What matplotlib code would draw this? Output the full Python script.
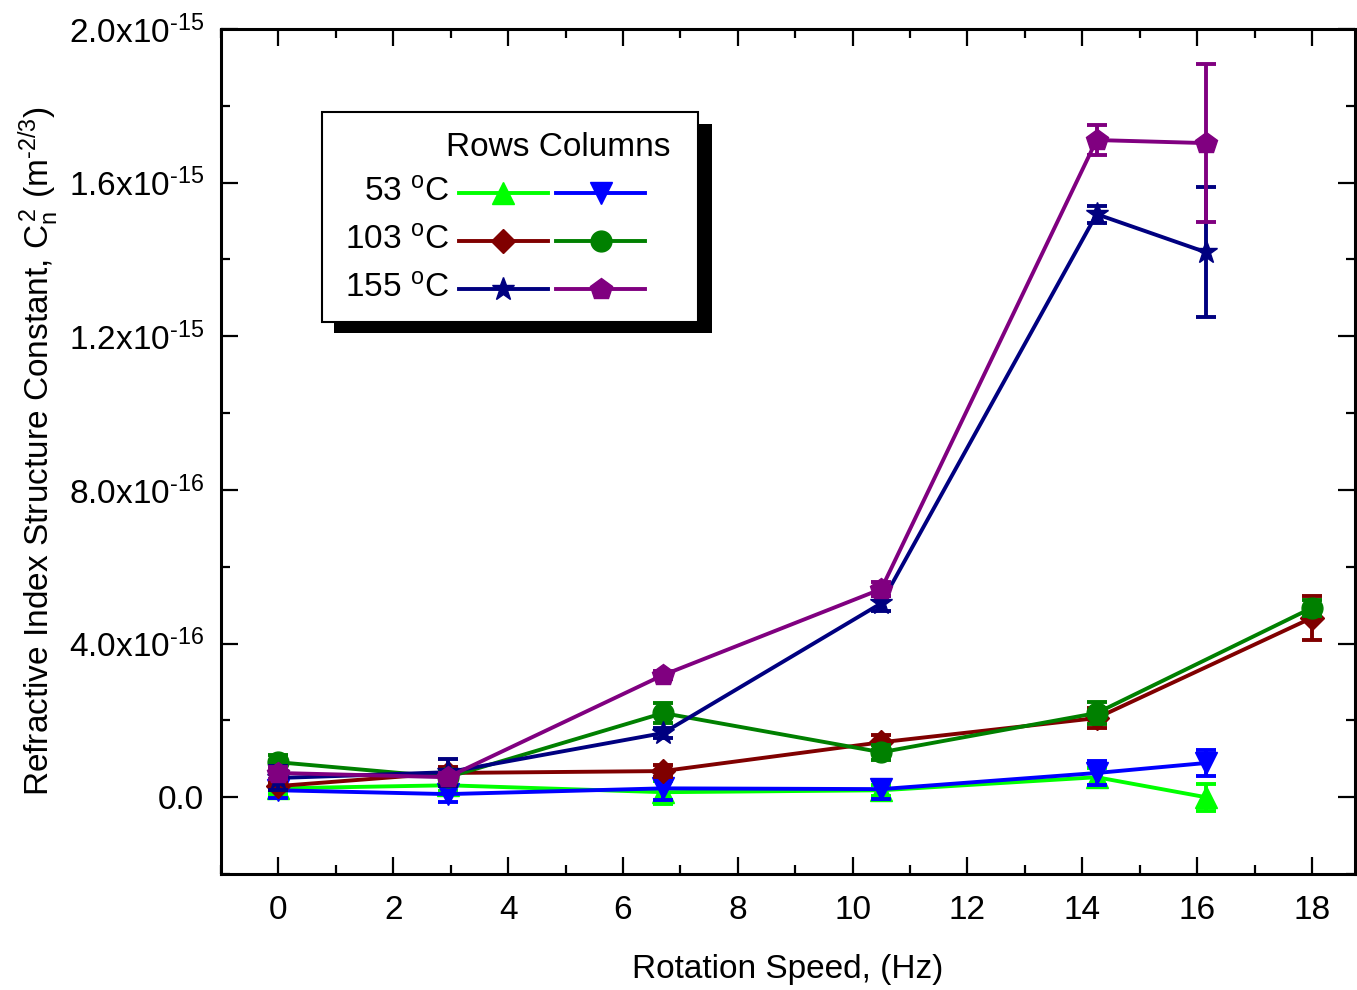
import numpy as np
import matplotlib
matplotlib.use("Agg")
import matplotlib.pyplot as plt
from matplotlib.ticker import MultipleLocator, FuncFormatter
from matplotlib.patches import Rectangle
from matplotlib.lines import Line2D

plt.rcParams["font.family"] = ["Liberation Sans", "DejaVu Sans"]
plt.rcParams["mathtext.fontset"] = "custom"
plt.rcParams["mathtext.rm"] = "Liberation Sans"
plt.rcParams["mathtext.it"] = "Liberation Sans:italic"
plt.rcParams["mathtext.bf"] = "Liberation Sans:bold"

# values in units of 1e-15 m^-2/3
UNIT = 1e-15
speed_a = [0, 2.95, 6.7, 10.5, 14.25, 16.15]
speed_b = [0, 2.95, 6.7, 10.5, 14.25, 18]

rows_53 = [0.023, 0.031, 0.013, 0.018, 0.052, 0.000]
rows_53_err = [0.015, 0.015, 0.03, 0.015, 0.025, 0.035]
cols_53 = [0.018, 0.008, 0.023, 0.021, 0.063, 0.089]
cols_53_err = [0.02, 0.02, 0.03, 0.025, 0.03, 0.035]

rows_103 = [0.029, 0.063, 0.068, 0.143, 0.206, 0.467]
rows_103_err = [0.01, 0.015, 0.015, 0.02, 0.026, 0.058]
cols_103 = [0.091, 0.052, 0.219, 0.117, 0.219, 0.493]
cols_103_err = [0.02, 0.015, 0.027, 0.02, 0.028, 0.02]

rows_155 = [0.050, 0.065, 0.167, 0.505, 1.518, 1.419]
rows_155_err = [0.03, 0.035, 0.012, 0.02, 0.022, 0.17]
cols_155 = [0.063, 0.052, 0.318, 0.542, 1.711, 1.703]
cols_155_err = [0.015, 0.01, 0.01, 0.017, 0.039, 0.206]

temps = ["53", "103", "155"]

W, H = 1357, 990
FS = 24
fig = plt.figure(figsize=(W / 100, H / 100), dpi=100)
ax = fig.add_axes([221 / W, 116 / H, (1355 - 221) / W, (874 - 29) / H])

LW = 2.8
series = [
    # x, y, err, colour, marker, markersize
    (speed_a, rows_53, rows_53_err, "#00FF00", "^", 16),
    (speed_a, cols_53, cols_53_err, "#0000FF", "v", 16),
    (speed_b, rows_103, rows_103_err, "#800000", "D", 12),
    (speed_b, cols_103, cols_103_err, "#008000", "o", 15),
    (speed_a, rows_155, rows_155_err, "#000080", "*", 17),
    (speed_a, cols_155, cols_155_err, "#800080", "p", 16),
]
for i, (x, y, e, c, m, ms) in enumerate(series):
    ax.errorbar(x, np.array(y) * UNIT, yerr=np.array(e) * UNIT, color=c,
                marker=m, ms=ms, mec=c, lw=LW, elinewidth=LW, capsize=7,
                capthick=LW, zorder=3 + i)

ax.set_xlim(-1, 18.75)
ax.set_ylim(-2e-16, 2.0001e-15)
ax.xaxis.set_major_locator(MultipleLocator(2))
ax.xaxis.set_minor_locator(MultipleLocator(1))
ax.yaxis.set_major_locator(MultipleLocator(4e-16))
ax.yaxis.set_minor_locator(MultipleLocator(2e-16))


def yfmt(v, pos):
    if abs(v) < 1e-20:
        return "0.0"
    ex = int(np.floor(np.log10(abs(v)) + 1e-9))
    return f"{v / 10**ex:.1f}x10$^{{\\text{{-{abs(ex)}}}}}$"


ax.yaxis.set_major_formatter(FuncFormatter(yfmt))
ax.tick_params(which="both", direction="in", top=True, right=True,
               width=1.6, labelsize=FS)
ax.tick_params(which="major", length=12.5, pad=12)
ax.tick_params(axis="x", which="major", pad=15)
ax.tick_params(which="minor", length=6.5)
for s in ax.spines.values():
    s.set_linewidth(2.2)

ax.set_xlabel("Rotation Speed, (Hz)", fontsize=FS, labelpad=20)
ax.set_ylabel(r"Refractive Index Structure Constant, C$_\mathrm{n}^{\,2}$ (m$^{\text{-2/3}}$)",
              fontsize=FS, labelpad=6)


# legend drawn by hand, positions in pixels of the figure
def fx(px):
    return px / W


def fy(py):
    return 1 - py / H


fig.add_artist(Rectangle((fx(334), fy(333)), fx(712) - fx(334), fy(124) - fy(333),
                         transform=fig.transFigure, fc="black", ec="none", zorder=10))
fig.add_artist(Rectangle((fx(322), fy(322)), fx(698) - fx(322), fy(112) - fy(322),
                         transform=fig.transFigure, fc="white", ec="black", lw=1.5,
                         zorder=11))
fig.text(fx(558), fy(147), "Rows Columns", fontsize=FS, ha="center", va="center",
         zorder=12)
row_y = [193, 241, 289]
for k, t in enumerate(temps):
    yy = fy(row_y[k])
    fig.text(fx(449), yy, t + r" $^\mathrm{o}$C", fontsize=FS, ha="right",
             va="center", zorder=12)
    for j, (x0, x1) in enumerate([(459, 548), (556, 645)]):
        _, _, _, c, m, ms = series[2 * k + j]
        fig.add_artist(Line2D([fx(x0), fx(x1)], [yy, yy], color=c, lw=LW,
                              transform=fig.transFigure, zorder=12))
        fig.add_artist(Line2D([fx((x0 + x1) / 2)], [yy], color=c, marker=m, ms=ms,
                              mec=c, transform=fig.transFigure, zorder=13))

fig.savefig("out.png", dpi=100)
